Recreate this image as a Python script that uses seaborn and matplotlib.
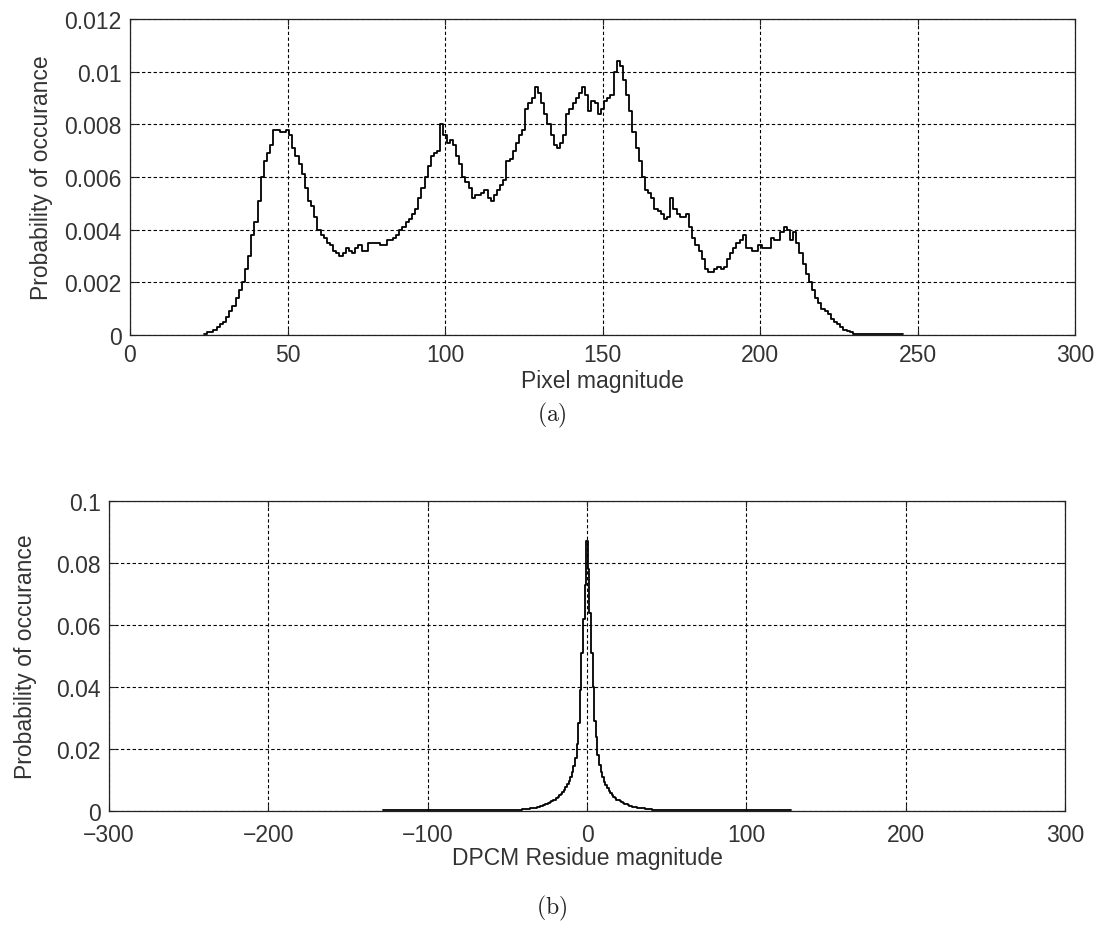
import numpy as np
import pandas as pd
import matplotlib
matplotlib.use("Agg")
import matplotlib.pyplot as plt
import seaborn as sns

# ---------------- data ----------------
# (a) pixel-value histogram, bins of width 1 centred on integers 24..230
pixel_levels = np.arange(24, 231)
pixel_prob = [
    0.00002, 0.0001, 0.0001, 0.0002, 0.0003, 0.0004, 0.0005, 0.0007, 0.0009, 0.0011,  # 24-33
    0.0014, 0.0017, 0.0020, 0.0025, 0.0030, 0.0038, 0.0043, 0.0051, 0.0060, 0.0066,   # 34-43
    0.0069, 0.0072, 0.0078, 0.0078, 0.0077, 0.0077, 0.0078, 0.0076, 0.0071, 0.0068,   # 44-53
    0.0065, 0.0061, 0.0056, 0.0051, 0.0049, 0.0045, 0.0040, 0.0038, 0.0037, 0.0035,   # 54-63
    0.0034, 0.0032, 0.0031, 0.0030, 0.0031, 0.0033, 0.0032, 0.0031, 0.0033, 0.0034,   # 64-73
    0.0032, 0.0032, 0.0035, 0.0035, 0.0035, 0.0035, 0.0034, 0.0034, 0.0036, 0.0036,   # 74-83
    0.0037, 0.0038, 0.0040, 0.0041, 0.0043, 0.0044, 0.0046, 0.0048, 0.0052, 0.0056,   # 84-93
    0.0060, 0.0064, 0.0068, 0.0069, 0.0070, 0.0080, 0.0076, 0.0073, 0.0074, 0.0072,   # 94-103
    0.0068, 0.0065, 0.0060, 0.0058, 0.0056, 0.0052, 0.0053, 0.0053, 0.0054, 0.0055,   # 104-113
    0.0052, 0.0051, 0.0053, 0.0055, 0.0057, 0.0059, 0.0066, 0.0067, 0.0070, 0.0073,   # 114-123
    0.0076, 0.0078, 0.0086, 0.0088, 0.0090, 0.0094, 0.0092, 0.0088, 0.0084, 0.0080,   # 124-133
    0.0076, 0.0072, 0.0071, 0.0073, 0.0076, 0.0084, 0.0086, 0.0088, 0.0090, 0.0092,   # 134-143
    0.0094, 0.0091, 0.0085, 0.0089, 0.0088, 0.0084, 0.0086, 0.0089, 0.0090, 0.0091,   # 144-153
    0.0100, 0.0104, 0.0102, 0.0097, 0.0091, 0.0085, 0.0077, 0.0071, 0.0066, 0.0060,   # 154-163
    0.0055, 0.0054, 0.0052, 0.0048, 0.0047, 0.0046, 0.0044, 0.0045, 0.0052, 0.0048,   # 164-173
    0.0046, 0.0045, 0.0045, 0.0046, 0.0041, 0.0037, 0.0034, 0.0032, 0.0029, 0.0025,   # 174-183
    0.0024, 0.0024, 0.0025, 0.0026, 0.0025, 0.0026, 0.0029, 0.0031, 0.0033, 0.0035,   # 184-193
    0.0036, 0.0038, 0.0033, 0.0033, 0.0032, 0.0032, 0.0034, 0.0033, 0.0033, 0.0033,   # 194-203
    0.0037, 0.0036, 0.0036, 0.0039, 0.0041, 0.0040, 0.0036, 0.0039, 0.0035, 0.0031,   # 204-213
    0.0027, 0.0023, 0.0020, 0.0017, 0.0014, 0.0012, 0.0010, 0.0009, 0.0008, 0.0006,   # 214-223
    0.0005, 0.0004, 0.0003, 0.0002, 0.00015, 0.0001, 0.00005,                         # 224-230
]
pixel_tail_range = [230.5, 245.5]   # nearly empty flat tail
pixel_tail_prob = 0.00002

# (b) DPCM residue histogram, bins of width 1 centred on -40..40
residue_levels = np.arange(-40, 41)
residue_prob = [
    0.0006, 0.0006, 0.0007, 0.0007, 0.0008, 0.0009, 0.0010, 0.0010, 0.0011, 0.0012,  # -40..-31
    0.0014, 0.0016, 0.0017, 0.0019, 0.0021, 0.0023, 0.0025, 0.0028, 0.0031, 0.0034,  # -30..-21
    0.0037, 0.0041, 0.0046, 0.0051, 0.0056, 0.0062, 0.0069, 0.0077, 0.0086, 0.0097,  # -20..-11
    0.0110, 0.0125, 0.0145, 0.0170, 0.0215, 0.0285, 0.0390, 0.0510, 0.0620, 0.0730,  # -10..-1
    0.0870,                                                                            # 0
    0.0780, 0.0640, 0.0510, 0.0400, 0.0290, 0.0240, 0.0180, 0.0150, 0.0125, 0.0110,  # 1..10
    0.0095, 0.0085, 0.0074, 0.0065, 0.0058, 0.0052, 0.0046, 0.0041, 0.0037, 0.0034,  # 11..20
    0.0031, 0.0028, 0.0025, 0.0023, 0.0021, 0.0019, 0.0017, 0.0016, 0.0014, 0.0013,  # 21..30
    0.0012, 0.0011, 0.0010, 0.0010, 0.0009, 0.0009, 0.0008, 0.0008, 0.0007, 0.0007,  # 31..40
]
residue_left_tail = [-128.0, -40.5]
residue_right_tail = [40.5, 128.0]
residue_tail_prob = 0.0002

# axis ticks / labels
a_xticks = [0, 50, 100, 150, 200, 250, 300]
a_yticks = [0, 0.002, 0.004, 0.006, 0.008, 0.01, 0.012]
a_yticklabels = ["0", "0.002", "0.004", "0.006", "0.008", "0.01", "0.012"]
b_xticks = [-300, -200, -100, 0, 100, 200, 300]
b_xticklabels = ["\u2212300", "\u2212200", "\u2212100", "0", "100", "200", "300"]
b_yticks = [0, 0.02, 0.04, 0.06, 0.08, 0.1]
b_yticklabels = ["0", "0.02", "0.04", "0.06", "0.08", "0.1"]

# ---------------- style ----------------
sns.set_style("white")
plt.rcParams["font.family"] = ["Liberation Sans", "DejaVu Sans"]
plt.rcParams["mathtext.fontset"] = "cm"
FS = 16.5

fig = plt.figure(figsize=(11.05, 9.45), dpi=100)
W, H = 1105, 945
ax1 = fig.add_axes([130 / W, 1 - 336 / H, (1075 - 130) / W, (336 - 20) / H])
ax2 = fig.add_axes([109 / W, 1 - 812 / H, (1065 - 109) / W, (812 - 502) / H])

# (a)
df_a = pd.DataFrame({
    "level": list(pixel_levels) + [np.mean(pixel_tail_range)],
    "prob": list(pixel_prob) + [pixel_tail_prob],
})
edges_a = list(np.arange(pixel_levels[0] - 0.5, pixel_levels[-1] + 1.0)) + [pixel_tail_range[1]]
sns.histplot(data=df_a, x="level", weights="prob", bins=edges_a, element="step",
             fill=False, color="black", linewidth=1.3, ax=ax1)

# (b)
df_b = pd.DataFrame({
    "level": [np.mean(residue_left_tail)] + list(residue_levels) + [np.mean(residue_right_tail)],
    "prob": [residue_tail_prob] + list(residue_prob) + [residue_tail_prob],
})
edges_b = [residue_left_tail[0]] + list(np.arange(residue_levels[0] - 0.5, residue_levels[-1] + 1.0)) + [residue_right_tail[1]]
sns.histplot(data=df_b, x="level", weights="prob", bins=edges_b, element="step",
             fill=False, color="black", linewidth=1.3, ax=ax2)


def style(ax, xticks, xlabels, yticks, ylabels, xlim, ylim, xlabel, ylabelpad, xpad, xlabelpad):
    ax.set_xlim(*xlim)
    ax.set_ylim(*ylim)
    ax.set_xticks(xticks)
    ax.set_xticklabels(xlabels)
    ax.set_yticks(yticks)
    ax.set_yticklabels(ylabels)
    ax.set_axisbelow(True)
    ax.grid(True, color="black", linestyle=(0, (3.0, 2.2)), linewidth=0.8)
    for s in ax.spines.values():
        s.set_visible(True)
        s.set_color("#222222")
        s.set_linewidth(0.9)
    ax.tick_params(axis="both", which="major", direction="in", length=4, width=0.8,
                   top=True, right=True, bottom=True, left=True,
                   labelsize=FS, colors="#222222", labelcolor="#333333")
    ax.tick_params(axis="x", pad=xpad)
    ax.tick_params(axis="y", pad=6)
    ax.set_xlabel(xlabel, fontsize=FS, color="#333333", labelpad=xlabelpad)
    ax.set_ylabel("Probability of occurance", fontsize=FS, color="#333333", labelpad=ylabelpad)


style(ax1, a_xticks, [str(t) for t in a_xticks], a_yticks, a_yticklabels,
      (0, 300), (0, 0.012), "Pixel magnitude", 8, 6, 2)
style(ax2, b_xticks, b_xticklabels, b_yticks, b_yticklabels,
      (-300, 300), (0, 0.1), "DPCM Residue magnitude", 14, 9, 0)

fig.text(552 / W, 1 - 415 / H, r"$\mathrm{(a)}$", ha="center", va="center", fontsize=17, color="#222222")
fig.text(552 / W, 1 - 908 / H, r"$\mathrm{(b)}$", ha="center", va="center", fontsize=17, color="#222222")

fig.savefig("out.png", dpi=100, facecolor="white")
